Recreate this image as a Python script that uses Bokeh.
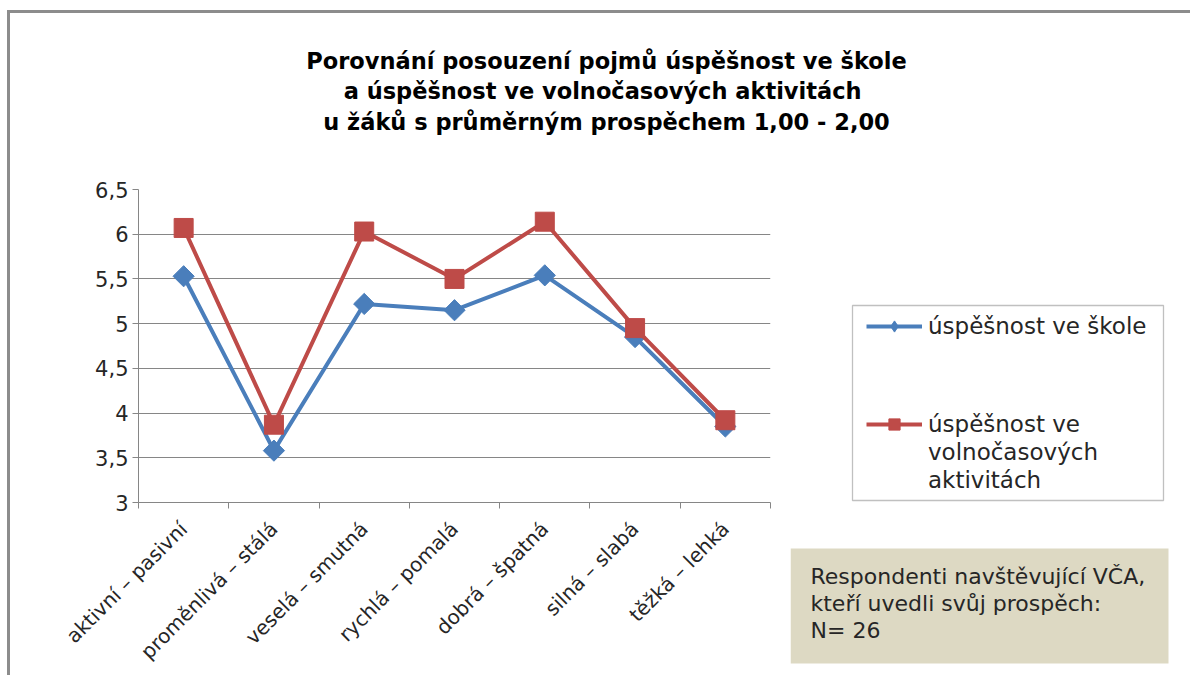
import numpy as np
from bokeh.plotting import figure
from bokeh.layouts import column, row
from bokeh.models import (FixedTicker, Legend, LegendItem, Label, BoxAnnotation, Range1d)
from bokeh.embed import file_html
from bokeh.resources import INLINE

# ---- data ----
categories = ["aktivní – pasivní", "proměnlivá – stálá", "veselá – smutná",
              "rychlá – pomalá", "dobrá – špatná", "silná – slabá", "těžká – lehká"]
skola = [5.53, 3.58, 5.22, 5.15, 5.54, 4.85, 3.85]
volny_cas = [6.07, 3.87, 6.03, 5.50, 6.14, 4.95, 3.92]
y_ticks = [3, 3.5, 4, 4.5, 5, 5.5, 6, 6.5]
y_tick_labels = ["3", "3,5", "4", "4,5", "5", "5,5", "6", "6,5"]
title_lines = ["Porovnání posouzení pojmů úspěšnost ve škole",
               "a úspěšnost  ve volnočasových aktivitách",
               "u žáků s průměrným prospěchem 1,00 - 2,00"]
note_lines = ["Respondenti navštěvující VČA,",
              "kteří uvedli svůj prospěch:",
              "N= 26"]
series_names = ["úspěšnost ve škole", "úspěšnost ve", "volnočasových", "aktivitách"]

FONT = "DejaVu Sans"
TXT = "#262626"
BLUE = "#4A7EBB"
RED = "#BE4B48"
GRID = "#868686"


def blank(width, height):
    f = figure(width=width, height=height, output_backend="svg", toolbar_location=None,
               x_range=Range1d(0, width), y_range=Range1d(0, height),
               min_border=0, x_axis_location=None, y_axis_location=None)
    f.grid.visible = False
    f.outline_line_color = None
    f.background_fill_color = "white"
    f.border_fill_color = "white"
    f.frame_align = False
    return f


# ---- title strip ----
TW, TH = 1180, 150
ptitle = blank(TW, TH)
for i, t in enumerate(title_lines):
    ptitle.add_layout(Label(x=596, y=TH - 47 - 30.5 * i, x_units="screen", y_units="screen",
                            text=t, text_align="center", text_baseline="middle",
                            text_font=FONT, text_font_style="bold", text_font_size="22.5px",
                            text_color="#000000"))

# ---- main chart ----
MW, MH = 780, 512
x = [i + 0.5 for i in range(len(categories))]
p = figure(width=MW, height=MH, output_backend="svg", toolbar_location=None,
           x_range=Range1d(0, len(categories)), y_range=Range1d(3, 6.5),
           min_border_left=128, min_border_right=20, min_border_top=26, min_border_bottom=172,
           background_fill_color="white", border_fill_color="white")
p.outline_line_color = None
p.frame_align = False

p.xaxis.ticker = FixedTicker(ticks=x, minor_ticks=list(range(len(categories) + 1)))
p.xaxis.major_label_overrides = {v: c for v, c in zip(x, categories)}
p.xaxis.major_label_orientation = np.pi / 4
p.xaxis.major_tick_out = 0
p.xaxis.major_tick_in = 0
p.xaxis.minor_tick_out = 6
p.xaxis.minor_tick_in = 0
p.xaxis.minor_tick_line_color = GRID
p.xaxis.axis_line_color = GRID
p.xaxis.major_label_text_font = FONT
p.xaxis.major_label_text_font_size = "20px"
p.xaxis.major_label_text_color = TXT
p.xaxis.major_label_standoff = 17

p.yaxis.ticker = FixedTicker(ticks=y_ticks)
p.yaxis.major_label_overrides = {v: l for v, l in zip(y_ticks, y_tick_labels)}
p.yaxis.minor_tick_line_color = None
p.yaxis.major_tick_out = 6
p.yaxis.major_tick_in = 0
p.yaxis.major_tick_line_color = GRID
p.yaxis.axis_line_color = GRID
p.yaxis.major_label_text_font = FONT
p.yaxis.major_label_text_font_size = "21px"
p.yaxis.major_label_text_color = TXT
p.yaxis.major_label_standoff = 4

p.xgrid.grid_line_color = None
p.ygrid.grid_line_color = GRID
p.ygrid.grid_line_width = 1

p.line(x, skola, line_color=BLUE, line_width=4)
p.scatter(x, skola, marker="square", angle=np.pi / 4, size=15, fill_color=BLUE, line_color=BLUE)
p.line(x, volny_cas, line_color=RED, line_width=4)
p.scatter(x, volny_cas, marker="square", size=19, fill_color=RED, line_color=RED)

# ---- side panel: legend + note ----
SW, SH = 400, MH
side = blank(SW, SH)
nan = [np.nan]
lg1 = side.line(nan, nan, line_color=BLUE, line_width=4)
mk1 = side.scatter(nan, nan, marker="diamond", size=17, fill_color=BLUE, line_color=BLUE)
lg2 = side.line(nan, nan, line_color=RED, line_width=4)
mk2 = side.scatter(nan, nan, marker="square", size=14, fill_color=RED, line_color=RED)
dummy = side.line(nan, nan, line_alpha=0)

# legend frame (screen y measured from the bottom of this panel)
side.add_layout(BoxAnnotation(left=62, right=373, top=370, bottom=175,
                              left_units="screen", right_units="screen",
                              top_units="screen", bottom_units="screen",
                              fill_color="white", fill_alpha=1,
                              line_color="#303030", line_width=1.3))


def make_legend(items, loc):
    lg = Legend(items=items, location=loc)
    lg.glyph_width = 56
    lg.glyph_height = 28
    lg.label_height = 28
    lg.spacing = 0
    lg.padding = 0
    lg.margin = 0
    lg.label_standoff = 6
    lg.label_text_font = FONT
    lg.label_text_font_size = "23px"
    lg.label_text_color = TXT
    lg.border_line_color = None
    lg.background_fill_alpha = 0
    return lg


side.add_layout(make_legend([LegendItem(label=series_names[0], renderers=[lg1, mk1])], (76, 335)))
side.add_layout(make_legend([
    LegendItem(label=series_names[1], renderers=[lg2, mk2]),
    LegendItem(label=series_names[2], renderers=[dummy]),
    LegendItem(label=series_names[3], renderers=[dummy]),
], (76, 181)))

# note box
side.add_layout(BoxAnnotation(left=0, right=378, top=127, bottom=12,
                              left_units="screen", right_units="screen",
                              top_units="screen", bottom_units="screen",
                              fill_color="#DDD9C3", fill_alpha=1, line_color=None))
for i, t in enumerate(note_lines):
    side.add_layout(Label(x=20, y=99 - 27 * i, x_units="screen", y_units="screen",
                          text=t, text_align="left", text_baseline="middle",
                          text_font=FONT, text_font_size="22px", text_color=TXT))

layout = column(ptitle, row(p, side, spacing=0), spacing=0,
                styles={"border-top": "3px solid #8c8c8c", "border-left": "3px solid #8c8c8c",
                        "margin-left": "7px", "margin-top": "10px"})

open("out.html", "w").write(file_html(layout, INLINE))
